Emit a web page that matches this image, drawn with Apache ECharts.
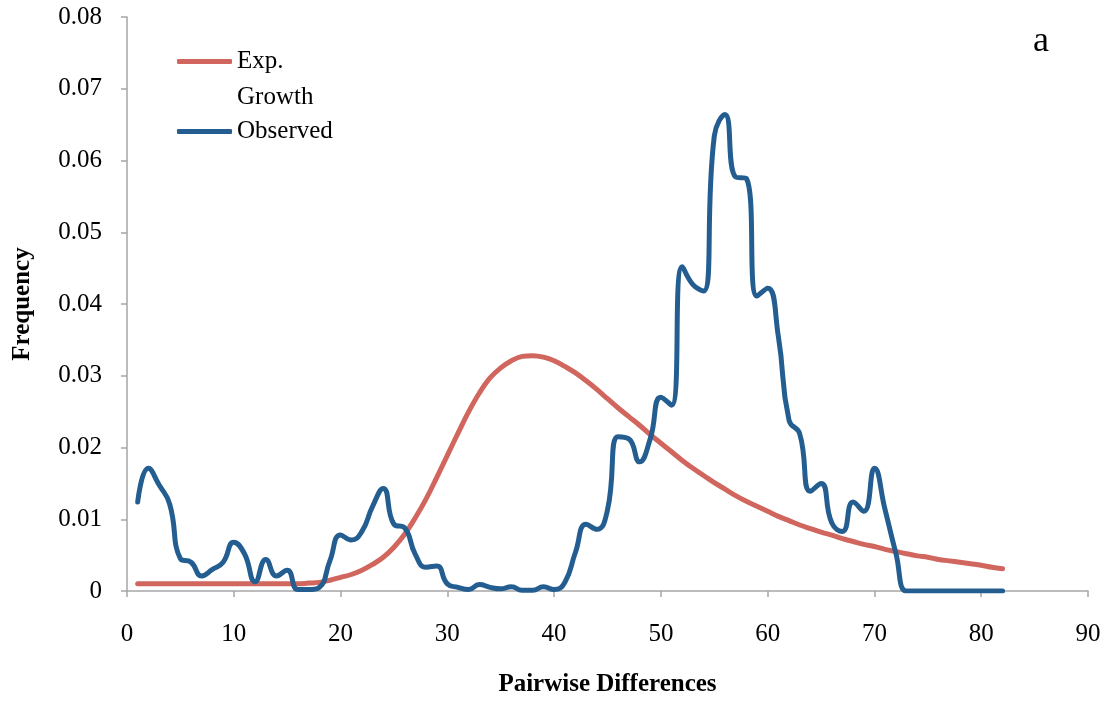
<!DOCTYPE html>
<html>
<head>
<meta charset="utf-8">
<script src="https://cdn.jsdelivr.net/npm/echarts@6/dist/echarts.min.js"></script>
<style>html,body{margin:0;padding:0;background:#fff}#c{width:1105px;height:702px}</style>
</head>
<body>
<div id="c"></div>
<script>
const xValues = Array.from({length: 82}, (_, i) => i + 1);
const expGrowth = [
  0.001,0.001,0.001,0.001,0.001,0.001,0.001,0.001,0.001,0.001,
  0.001,0.001,0.001,0.001,0.001,0.001,0.0011,0.0012,0.0015,0.0019,
  0.0023,0.0029,0.0037,0.0047,0.0061,0.0079,0.0102,0.0128,0.0158,0.0189,
  0.0220,0.0250,0.0276,0.0297,0.0311,0.0321,0.0327,0.0328,0.0326,0.0321,
  0.0313,0.0304,0.0293,0.0281,0.0268,0.0255,0.0243,0.0231,0.0218,0.0206,
  0.0194,0.0182,0.0171,0.0161,0.0151,0.0142,0.0133,0.0125,0.0118,0.0111,
  0.0104,0.0098,0.0092,0.0087,0.0082,0.0078,0.0073,0.0069,0.0065,0.0062,
  0.0058,0.0055,0.0052,0.0049,0.0047,0.0044,0.0042,0.0040,0.0038,0.0036,
  0.0033,0.0031
];
const observed = [
  0.0124,0.0171,0.0148,0.0121,0.0045,0.0040,0.0021,0.0030,0.0040,0.0068,
  0.0052,0.0013,0.0044,0.0021,0.0029,0.0002,0.0002,0.0005,0.0042,0.0078,
  0.0071,0.0083,0.0118,0.0143,0.0093,0.0088,0.0051,0.0033,0.0035,0.0010,
  0.0005,0.0002,0.0009,0.0005,0.0003,0.0006,0.0001,0.0001,0.0006,0.0002,
  0.0012,0.0054,0.0093,0.0086,0.0113,0.0215,0.0212,0.0180,0.0212,0.0270,
  0.0259,0.0452,0.0427,0.0418,0.0634,0.0664,0.0577,0.0575,0.0411,0.0422,
  0.0355,0.0238,0.0219,0.0139,0.0150,0.0095,0.0083,0.0124,0.0111,0.0171,
  0.0113,0.0053,0.0000,0.0000,0.0000,0.0000,0.0000,0.0000,0.0000,0.0000,
  0.0000,0.0000
];
const seriesNames = ['Exp. Growth', 'Observed'];
const xAxisTitle = 'Pairwise Differences';
const yAxisTitle = 'Frequency';
const panelLabel = 'a';

const FONT = '"Liberation Serif", "Times New Roman", serif';
const chart = echarts.init(document.getElementById('c'), null, {renderer: 'canvas'});
const pair = (arr) => xValues.map((x, i) => [x, arr[i]]);
chart.setOption({
  animation: false,
  backgroundColor: '#fff',
  title: {
    text: panelLabel, left: 1033, top: 24, padding: 0,
    textStyle: {fontFamily: FONT, fontWeight: 'normal', fontSize: 36, color: '#000'}
  },
  legend: [
    {
      orient: 'vertical', left: 177, top: 44, padding: 0,
      icon: 'roundRect', itemWidth: 55, itemHeight: 5,
      data: [seriesNames[0]],
      formatter: () => 'Exp.',
      textStyle: {fontFamily: FONT, fontSize: 25, color: '#000', lineHeight: 35}
    },
    {
      orient: 'vertical', left: 177, top: 114, padding: 0,
      icon: 'roundRect', itemWidth: 55, itemHeight: 5,
      data: [seriesNames[1]],
      textStyle: {fontFamily: FONT, fontSize: 25, color: '#000', lineHeight: 35}
    }
  ],
  graphic: [{
    type: 'text', left: 237, top: 85,
    style: {text: 'Growth', font: '25px ' + FONT, fill: '#000'}
  }],
  grid: {left: 127, right: 17, top: 17, bottom: 107, containLabel: false},
  xAxis: {
    type: 'value', min: 0, max: 90, interval: 10,
    name: xAxisTitle, nameLocation: 'middle', nameGap: 81,
    nameTextStyle: {fontFamily: FONT, fontWeight: 'bold', fontSize: 25, color: '#000'},
    axisLine: {show: true, onZero: false, lineStyle: {color: '#a6a6a6', width: 1.5}},
    axisTick: {show: true, length: 6, lineStyle: {color: '#a6a6a6', width: 1.5}},
    axisLabel: {fontFamily: FONT, fontSize: 25, color: '#000', margin: 31},
    splitLine: {show: false}
  },
  yAxis: {
    type: 'value', min: 0, max: 0.08, interval: 0.01,
    name: yAxisTitle, nameLocation: 'middle', nameGap: 92, nameRotate: 90,
    nameTextStyle: {fontFamily: FONT, fontWeight: 'bold', fontSize: 25, color: '#000'},
    axisLine: {show: true, lineStyle: {color: '#a6a6a6', width: 1.5}},
    axisTick: {show: true, length: 6, lineStyle: {color: '#a6a6a6', width: 1.5}},
    axisLabel: {fontFamily: FONT, fontSize: 25, color: '#000', margin: 25,
      formatter: (v) => v === 0 ? '0' : v.toFixed(2)},
    splitLine: {show: false}
  },
  series: [
    {
      name: seriesNames[0], type: 'line', data: pair(expGrowth), smooth: 0.4,
      showSymbol: false, symbol: 'none', color: '#D0665E',
      lineStyle: {color: '#D0665E', width: 5, cap: 'round', join: 'round'}, z: 2
    },
    {
      name: seriesNames[1], type: 'line', data: pair(observed), smooth: 0.5,
      showSymbol: false, symbol: 'none', color: '#245E91',
      lineStyle: {color: '#245E91', width: 5, cap: 'round', join: 'round'}, z: 3
    }
  ]
});
</script>
</body>
</html>
